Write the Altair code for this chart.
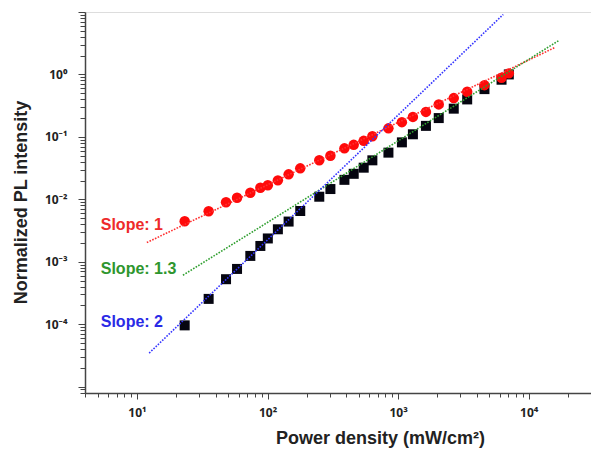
import altair as alt
import pandas as pd

# ---- data ----
power = [23.2, 35.4, 48.1, 58.4, 73.8, 88.1, 100.5, 120, 145, 178, 249, 303, 388, 457,
         545, 635, 843, 1069, 1298, 1633, 2047, 2667, 3380, 4584, 6194, 7043]
red_pl = [4.45e-3, 6.43e-3, 8.95e-3, 1.057e-2, 1.27e-2, 1.53e-2, 1.675e-2, 2.01e-2, 2.51e-2,
          3.13e-2, 4.21e-2, 4.97e-2, 6.55e-2, 7.45e-2, 8.63e-2, 0.102, 0.137, 0.172, 0.209,
          0.251, 0.331, 0.418, 0.529, 0.674, 0.886, 1.04]
black_pl = [9.57e-5, 2.54e-4, 5.25e-4, 7.67e-4, 1.24e-3, 1.79e-3, 2.36e-3, 3.31e-3, 4.40e-3,
            6.50e-3, 1.10e-2, 1.46e-2, 2.05e-2, 2.56e-2, 3.21e-2, 4.21e-2, 5.59e-2, 8.17e-2,
            0.110, 0.150, 0.200, 0.283, 0.398, 0.582, 0.823, 1.0]

# slope guide lines (end points)
fit_names = ["Slope: 1", "Slope: 1", "Slope: 1.3", "Slope: 1.3", "Slope: 2", "Slope: 2"]
fit_x = [11.9, 16000, 22.5, 17200, 12.4, 6380]
fit_y = [2.03e-3, 2.72, 6.08e-4, 3.54, 3.44e-5, 9.12]

label_text = ["Slope: 1", "Slope: 1.3", "Slope: 2"]
label_x = [5.28, 5.28, 5.28]
label_y = [3.84e-3, 7.59e-4, 1.08e-4]

series_colors = ["#ee2a2a", "#2e962e", "#2a2ae6"]
line_colors = ["#ff3030", "#2f9f2f", "#3535ff"]

x_ticks = [4, 5, 6, 7, 8, 9] + [m * 10 for m in range(1, 10)] + [m * 100 for m in range(1, 10)] \
          + [m * 1000 for m in range(1, 10)] + [10000, 20000, 30000]
y_ticks = []
for e in range(-6, 1):
    for m in range(1, 10):
        v = m * 10.0 ** e
        if v >= 7.9e-6:
            y_ticks.append(float(f"{v:.6g}"))
y_ticks.append(10.0)

pts = pd.DataFrame({"x": power, "red": red_pl, "black": black_pl})
fits = pd.DataFrame({"name": fit_names, "x": fit_x, "y": fit_y})
labels = pd.DataFrame({"text": label_text, "x": label_x, "y": label_y})

FONT = "Liberation Sans"
TICKFONT = "Noto Sans"
major = "abs(log(datum.value)/LN10 - round(log(datum.value)/LN10)) < 1e-6"

x_scale = alt.Scale(type="log", domain=[4, 30000], nice=False)
y_scale = alt.Scale(type="log", domain=[7.9e-6, 10], nice=False)

x_axis = alt.Axis(
    values=x_ticks,
    labelExpr=f"({major}) && round(log(datum.value)/LN10) >= 1 && round(log(datum.value)/LN10) <= 4 ? '10' + ['¹','²','³','⁴'][round(log(datum.value)/LN10) - 1] : ''",
    tickSize={"condition": {"test": major, "value": 6}, "value": 4},
    labelPadding=8, labelFontSize=12, labelFontWeight="bold", labelFont=TICKFONT, labelColor="#222",
    grid=False, domainColor="#444", domainWidth=1.5, tickColor="#444", tickWidth=1,
    title="Power density (mW/cm²)", titleFont=FONT, titleFontSize=18, titleFontWeight="bold",
    titleColor="#222", titleX=295, titleY=50, titleBaseline="alphabetic", titleAlign="center",
    labelFlush=False, labelOverlap=False,
)
y_axis = alt.Axis(
    values=y_ticks,
    labelExpr=f"({major}) && round(log(datum.value)/LN10) >= -4 && round(log(datum.value)/LN10) <= 0 ? '10' + ['⁻⁴','⁻³','⁻²','⁻¹','⁰'][round(log(datum.value)/LN10) + 4] : ''",
    tickSize={"condition": {"test": major, "value": 7}, "value": 5},
    labelPadding=11, labelFontSize=12, labelFontWeight="bold", labelFont=TICKFONT, labelColor="#222",
    grid=False, domainColor="#444", domainWidth=1.5, tickColor="#444", tickWidth=1,
    title="Normalized PL intensity", titleFont=FONT, titleFontSize=18, titleFontWeight="bold",
    titleColor="#222", titleX=-59, titleY=190, titleBaseline="alphabetic", titleAlign="center",
    titleAngle=270, labelFlush=False, labelOverlap=False,
)

color_scale = alt.Scale(domain=label_text, range=line_colors)
text_scale = alt.Scale(domain=label_text, range=series_colors)

squares = alt.Chart(pts).mark_square(size=100, color="#050510", opacity=1).encode(
    x=alt.X("x:Q", scale=x_scale, axis=x_axis),
    y=alt.Y("black:Q", scale=y_scale, axis=y_axis),
)
circles = alt.Chart(pts).mark_circle(size=110, color="#ff0a0a", opacity=1).encode(
    x=alt.X("x:Q", scale=x_scale),
    y=alt.Y("red:Q", scale=y_scale),
)
lines = alt.Chart(fits).mark_line(strokeWidth=1.6, strokeDash=[1.6, 1.4]).encode(
    x=alt.X("x:Q", scale=x_scale),
    y=alt.Y("y:Q", scale=y_scale),
    color=alt.Color("name:N", scale=color_scale, legend=None),
    detail="name:N",
)
texts = alt.Chart(labels).mark_text(align="left", baseline="middle", font=FONT, fontSize=16,
                                    fontWeight="bold").encode(
    x=alt.X("x:Q", scale=x_scale),
    y=alt.Y("y:Q", scale=y_scale),
    text="text:N",
    color=alt.Color("text:N", scale=text_scale, legend=None),
)

chart = alt.layer(squares, circles, lines, texts).resolve_scale(color="independent").properties(
    width=506, height=381,
    autosize=alt.AutoSizeParams(type="none"),
    padding={"left": 77, "top": 4, "right": 0, "bottom": 56},
).configure_view(stroke=None).configure(background="white")

chart.save("out.html", embed_options={"renderer": "svg", "actions": False})
